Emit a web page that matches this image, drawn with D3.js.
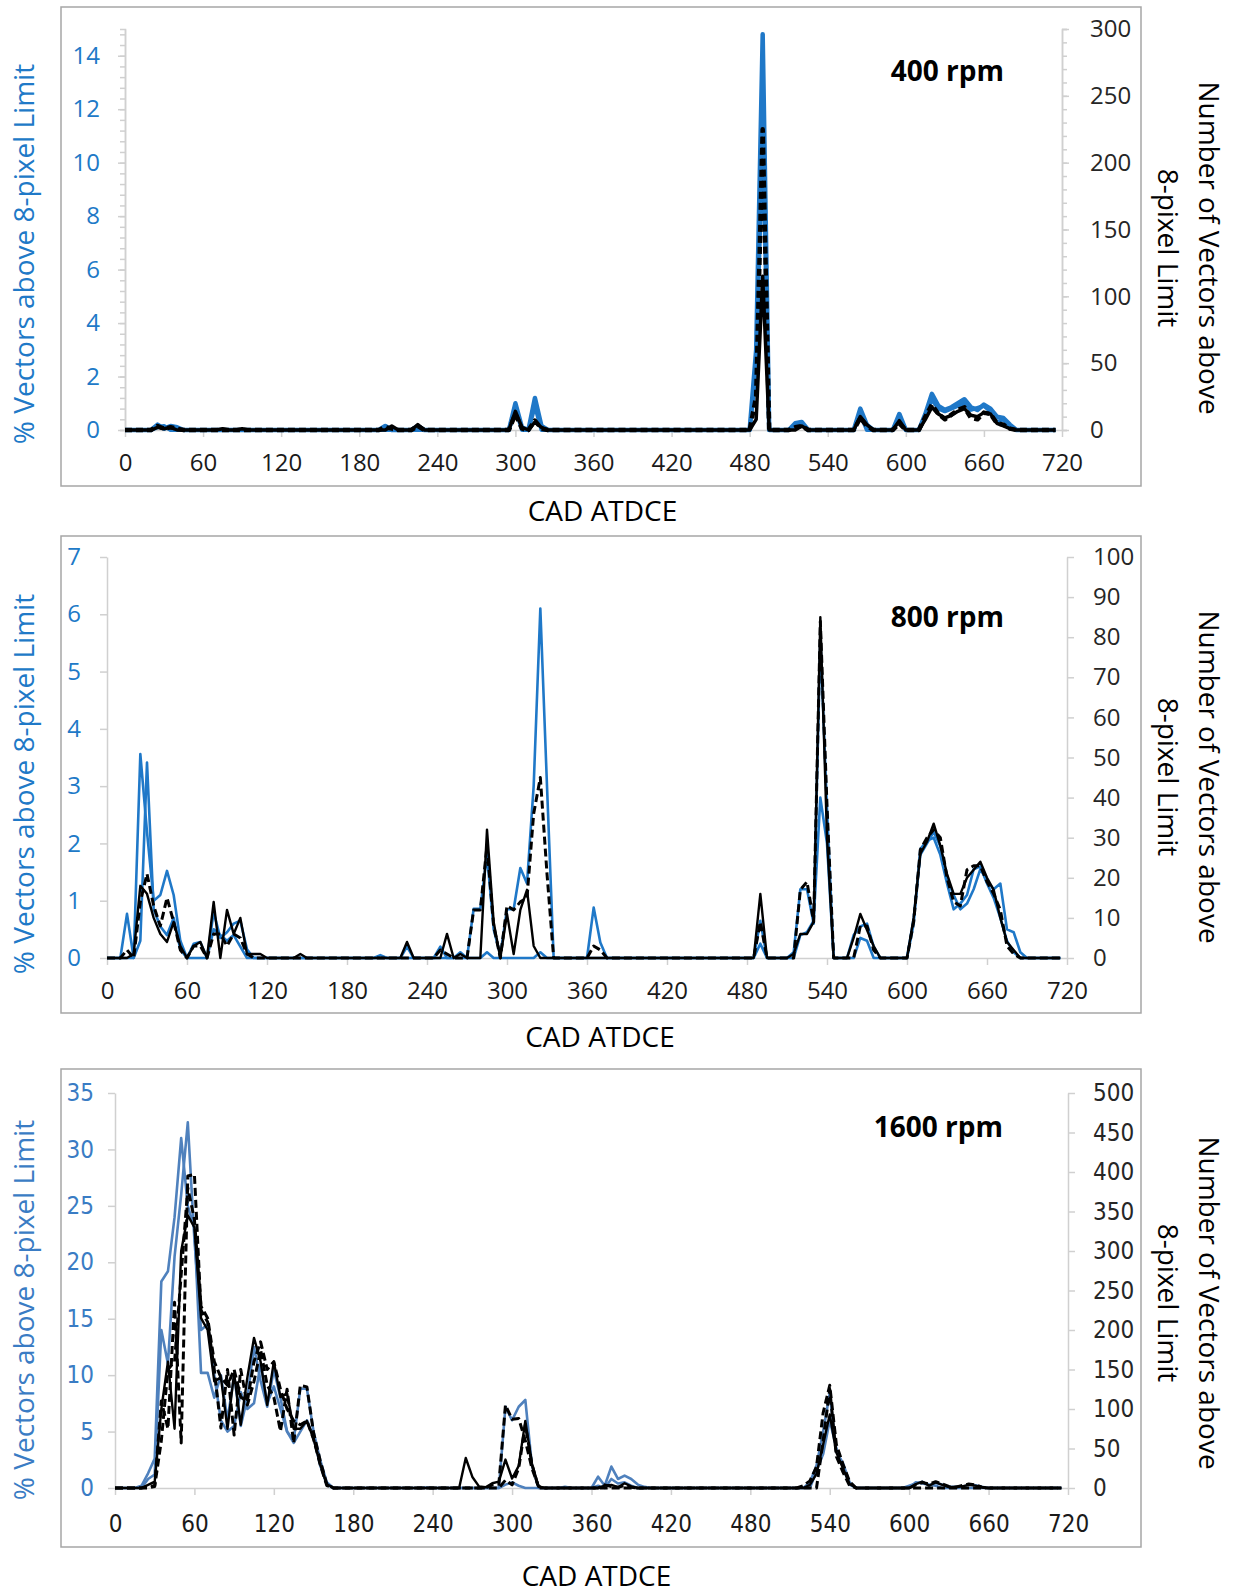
<!DOCTYPE html>
<html>
<head>
<meta charset="utf-8">
<script src="https://cdn.jsdelivr.net/npm/d3@7"></script>
<style>
  body { margin: 0; background: #fff; }
  text { font-family: "Open Sans", "Noto Sans", sans-serif; }
</style>
</head>
<body>
<svg id="chart" width="1234" height="1594"></svg>
<script>
// ---- data: [CAD ATDCE, value] ; blue = % (left axis), black = count (right axis)
var xTicks = [0, 60, 120, 180, 240, 300, 360, 420, 480, 540, 600, 660, 720];

// 400 rpm
var rpm400Blue1 = [[0,0],[20,0],[25,0.2],[30,0.05],[35,0.15],[40,0.1],[45,0],[195,0],[200,0.15],[205,0],[220,0],[225,0.15],[230,0],[295,0],[300,1.0],[305,0.1],[310,0],[315,1.2],[320,0.15],[325,0],[480,0],[485,3.0],[490,14.8],[495,0],[510,0],[515,0.25],[520,0.3],[525,0],[560,0],[565,0.8],[570,0.2],[575,0],[590,0],[595,0.6],[600,0],[610,0],[615,0.6],[620,1.35],[625,0.9],[630,0.75],[635,0.85],[640,1.0],[645,1.15],[650,0.85],[655,0.75],[660,0.95],[665,0.8],[670,0.5],[675,0.45],[680,0.2],[685,0],[715,0]];
var rpm400Blue2 = [[0,0],[20,0],[25,0.1],[30,0.15],[35,0],[295,0],[300,0.8],[305,0],[310,0],[315,0.9],[320,0],[480,0],[485,2.2],[490,11],[495,0],[510,0],[515,0.15],[520,0.2],[525,0],[560,0],[565,0.6],[570,0],[590,0],[595,0.5],[600,0],[610,0],[615,0.5],[620,1.15],[625,0.8],[630,0.7],[640,0.9],[645,1.0],[650,0.75],[660,0.9],[665,0.7],[670,0.3],[675,0.4],[680,0.1],[685,0],[715,0]];
var rpm400Black = [[0,0],[20,0],[25,2],[30,1],[35,2],[40,0],[70,0],[75,1],[80,0],[85,0],[90,1],[95,0],[200,0],[205,3],[210,0],[220,0],[225,4],[230,0],[295,0],[300,14],[305,2],[310,0],[315,6],[320,2],[325,0],[480,0],[485,8],[490,115],[495,0],[515,0],[520,3],[525,0],[560,0],[565,10],[570,4],[575,0],[590,0],[595,7],[600,0],[610,0],[615,8],[620,17],[625,12],[630,9],[635,11],[640,14],[645,16],[650,11],[655,10],[660,13],[665,12],[670,5],[675,3],[680,1],[685,0],[715,0]];
var rpm400Dash = [[0,0],[20,0],[25,3],[30,1],[35,2],[40,1],[45,0],[195,0],[200,2],[205,1],[210,0],[220,0],[225,3],[230,0],[295,0],[300,12],[305,1],[310,0],[315,7],[320,1],[325,0],[480,0],[485,25],[490,225],[495,0],[510,0],[515,2],[520,3],[525,0],[560,0],[565,9],[570,3],[575,0],[590,0],[595,5],[600,0],[610,0],[615,10],[620,19],[625,12],[630,8],[640,15],[645,17],[650,9],[655,8],[660,13],[665,12],[670,5],[675,4],[680,1],[685,0],[715,0]];

// 800 rpm
var rpm800Blue1 = [[0,0],[10,0],[15,0.77],[20,0],[25,3.56],[30,2.2],[35,1.0],[40,1.1],[45,1.52],[50,1.1],[55,0.3],[60,0],[65,0.25],[70,0.28],[75,0],[80,0.8],[85,0.35],[90,0.45],[95,0.6],[100,0.65],[105,0.15],[110,0],[200,0],[205,0.05],[210,0],[220,0],[225,0.2],[230,0],[245,0],[250,0.2],[255,0],[260,0],[265,0.1],[270,0],[275,0.86],[280,0.86],[285,1.8],[290,0.5],[295,0.05],[300,0.85],[305,0.85],[310,1.57],[315,1.3],[320,3.0],[325,6.1],[330,3.0],[335,0],[360,0],[365,0.88],[370,0.27],[375,0],[485,0],[490,0.65],[495,0],[510,0],[515,0.1],[520,1.2],[525,1.2],[530,0.6],[535,5.6],[540,2.6],[545,0],[555,0],[560,0.4],[565,0.55],[570,0.6],[575,0.2],[580,0],[600,0],[605,0.7],[610,1.8],[615,2.0],[620,2.2],[625,1.95],[630,1.4],[635,1.1],[640,0.85],[645,0.95],[650,1.2],[655,1.55],[660,1.35],[665,1.2],[670,1.3],[675,0.5],[680,0.45],[685,0.1],[690,0],[715,0]];
var rpm800Blue2 = [[0,0],[20,0],[25,0.3],[30,3.41],[35,0.85],[40,0.55],[45,0.4],[50,0.7],[55,0.15],[60,0],[75,0],[80,0.5],[85,0.4],[90,0.3],[95,0.4],[100,0.2],[105,0],[280,0],[285,0.1],[290,0],[320,0],[325,0.1],[330,0],[485,0],[490,0.25],[495,0],[515,0],[520,0.4],[525,0.45],[530,0.65],[535,2.8],[540,2.0],[545,0],[560,0],[565,0.35],[570,0.3],[575,0],[600,0],[605,0.6],[610,1.9],[615,2.05],[620,2.1],[625,1.8],[630,1.3],[635,0.85],[640,0.95],[645,1.1],[650,1.55],[655,1.6],[660,1.3],[665,1.05],[670,0.7],[675,0.3],[680,0.1],[685,0],[715,0]];
var rpm800Black = [[0,0],[15,0],[20,1],[25,18],[30,16],[35,10],[40,6],[45,4],[50,9],[55,3],[60,0],[65,3],[70,4],[75,0],[80,14],[85,0],[90,12],[95,6],[100,10],[105,1],[110,1],[115,1],[120,0],[140,0],[145,1],[150,0],[220,0],[225,4],[230,0],[250,0],[255,6],[260,0],[265,1],[270,0],[280,0],[285,32],[290,9],[295,0],[300,11],[305,1],[310,12],[315,17],[320,3],[325,0],[485,0],[490,16],[495,0],[510,0],[515,1],[520,6],[525,6],[530,9],[535,85],[540,30],[545,0],[555,0],[560,5],[565,11],[570,7],[575,3],[580,0],[600,0],[605,10],[610,26],[615,29],[620,33.5],[625,28],[630,21],[635,16],[640,16],[645,20],[650,22],[655,24],[660,20],[665,17],[670,10],[675,4],[680,2],[685,0],[715,0]];
var rpm800Dash = [[0,0],[10,0],[15,2],[20,0],[25,14],[30,21],[35,13],[40,8],[45,15],[50,9],[55,2],[60,0],[65,3],[70,3],[75,0],[80,6],[85,6],[90,3],[95,6],[100,5],[105,1],[110,0],[245,0],[250,2],[255,1],[260,0],[270,0],[275,12],[280,12],[285,28],[290,8],[295,0],[300,13],[305,12],[310,14],[315,15],[320,36],[325,45],[330,21],[335,0],[360,0],[365,3],[370,2],[375,0],[485,0],[490,9],[495,0],[515,0],[520,17],[525,19],[530,9],[535,84],[540,38],[545,0],[560,0],[565,8],[570,8],[575,2],[580,0],[600,0],[605,9],[610,27],[615,30],[620,32],[625,30],[630,20],[635,14],[640,13],[645,22],[650,23],[655,23],[660,19],[665,16],[670,12],[675,3],[680,1],[685,0],[715,0]];

// 1600 rpm
var rpm1600Blue1 = [[0,0],[15,0],[20,0.2],[25,1.3],[30,2.6],[35,18.3],[40,19.2],[45,24],[50,31],[55,25],[60,23],[65,10.2],[70,10.2],[75,8],[80,10],[85,6],[90,10],[95,5.5],[100,8],[105,12.5],[110,9.5],[115,7.2],[120,10.5],[125,8],[130,5],[135,4],[140,5],[145,6],[150,4.5],[155,2],[160,0.3],[165,0],[230,0],[235,0.05],[240,0],[290,0],[295,7.2],[300,6],[305,7.2],[310,7.8],[315,2],[320,0],[335,0],[340,0.1],[345,0],[360,0],[365,1.0],[370,0.2],[375,1.9],[380,0.8],[385,1.1],[390,0.8],[395,0.3],[400,0.1],[405,0],[520,0],[525,0.5],[530,2],[535,5],[540,8.4],[545,3.2],[550,2.2],[555,0.5],[560,0],[595,0],[600,0.2],[605,0.4],[610,0.55],[615,0.2],[620,0.45],[625,0.3],[630,0.1],[640,0.1],[645,0.3],[650,0.25],[655,0.1],[660,0],[715,0]];
var rpm1600Blue2 = [[0,0],[20,0],[25,0.8],[30,1.2],[35,14],[40,11],[45,20.5],[50,26],[55,32.4],[60,22],[65,14],[70,14.5],[75,10],[80,6],[85,5],[90,5.5],[95,8.5],[100,7],[105,7.5],[110,11],[115,7.5],[120,9],[125,7],[130,5],[135,4.2],[140,8.8],[145,8.8],[150,5],[155,2.5],[160,0.5],[165,0],[290,0],[295,0.3],[300,0.5],[305,0.2],[310,0],[360,0],[365,0.2],[370,0],[375,0.8],[380,0.4],[385,0.5],[390,0.2],[395,0],[525,0],[530,1.5],[535,3],[540,6],[545,3.5],[550,1.8],[555,0.3],[560,0],[600,0],[605,0.5],[610,0.4],[615,0.3],[620,0.2],[625,0],[715,0]];
var rpm1600Black = [[0,0],[20,0],[25,4],[30,8],[35,100],[40,160],[45,75],[50,300],[55,345],[60,330],[65,215],[70,200],[75,135],[80,140],[85,75],[90,145],[95,80],[100,140],[105,190],[110,160],[115,105],[120,160],[125,115],[130,120],[135,75],[140,75],[145,85],[150,62],[155,30],[160,5],[165,0],[260,0],[265,38],[270,14],[275,2],[280,1],[285,6],[290,8],[295,36],[300,12],[305,28],[310,85],[315,31],[320,2],[325,0],[365,0],[370,3],[375,4],[380,1],[385,6],[390,2],[395,0],[520,0],[525,4],[530,18],[535,55],[540,93],[545,45],[550,25],[555,5],[560,0],[600,0],[605,5],[610,8],[615,3],[620,7],[625,4],[630,1],[640,2],[645,4],[650,3],[655,1],[660,0],[715,0]];
var rpm1600Dash = [[0,0],[20,0],[25,2],[30,3],[35,110],[40,75],[45,235],[50,57],[55,395],[60,397],[65,225],[70,210],[75,150],[80,76],[85,150],[90,67],[95,150],[100,105],[105,135],[110,175],[115,130],[120,115],[125,72],[130,125],[135,57],[140,130],[145,128],[150,70],[155,35],[160,5],[165,0],[280,0],[285,4],[290,5],[295,105],[300,87],[305,88],[310,60],[315,25],[320,2],[325,0],[365,0],[370,4],[375,2],[380,1],[385,3],[390,1],[395,0],[515,0],[520,3],[525,9],[530,27],[535,95],[540,130],[545,55],[550,30],[555,8],[560,0],[600,0],[605,4],[610,7],[615,5],[620,8],[625,5],[630,2],[635,1],[645,5],[650,4],[655,1],[660,0],[715,0]];
var rpm1600Dash2 = [[0,0],[25,0],[30,2],[35,60],[40,150],[45,160],[50,270],[55,380],[60,340],[65,230],[70,215],[75,160],[80,140],[85,130],[90,150],[95,115],[100,110],[105,160],[110,185],[115,150],[120,160],[125,125],[130,100],[135,85],[140,80],[145,85],[150,62],[155,30],[160,3],[165,0],[290,0],[295,10],[300,4],[305,25],[310,80],[315,30],[320,0],[530,0],[535,60],[540,125],[545,40],[550,20],[555,3],[560,0],[715,0]];

var svg = d3.select('#chart');
svg.append('rect').attr('width', 1234).attr('height', 1594).attr('fill', '#fff');

var fmt = d3.format('~g');

function styleAxis(sel, labelColor, fontSize, fontFamily) {
  sel.select('.domain').attr('stroke', '#d0d0d0').attr('stroke-width', 1.5);
  sel.selectAll('.tick line').attr('stroke', '#d0d0d0').attr('stroke-width', 1.5);
  sel.selectAll('.tick text').attr('fill', labelColor).style('font-size', fontSize + 'px')
    .style('font-family', fontFamily);
}

function drawPanel(p) {
  var g = svg.append('g');
  g.append('rect')
    .attr('x', p.box[0]).attr('y', p.box[1])
    .attr('width', p.box[2] - p.box[0]).attr('height', p.box[3] - p.box[1])
    .attr('fill', 'none').attr('stroke', '#a6a6a6').attr('stroke-width', 1.5);

  var x = d3.scaleLinear().domain([0, 720]).range([p.x0, p.x1]);
  var yL = d3.scaleLinear().domain([0, p.leftMax]).range([p.y0, p.y1]);
  var yR = d3.scaleLinear().domain([0, p.rightMax]).range([p.y0, p.y1]);

  // minor ticks (400 rpm only)
  if (p.leftMinor) {
    g.append('g').attr('transform', 'translate(' + p.x0 + ',0)')
      .call(d3.axisLeft(yL).tickValues(d3.range(0, p.leftMax + 0.001, p.leftMinor)).tickSize(5).tickFormat(''))
      .call(styleAxis, p.leftColor, p.fs, p.tickFont);
    g.append('g').attr('transform', 'translate(' + p.x1 + ',0)')
      .call(d3.axisRight(yR).tickValues(d3.range(0, p.rightMax + 0.001, p.rightMinor)).tickSize(5).tickFormat(''))
      .call(styleAxis, '#333', p.fs, p.tickFont);
  }

  g.append('g').attr('transform', 'translate(0,' + p.y0 + ')')
    .call(d3.axisBottom(x).tickValues(xTicks).tickSize(7).tickSizeOuter(0).tickPadding(p.padX).tickFormat(fmt))
    .call(styleAxis, '#1a1a1a', p.fs, p.tickFont);

  g.append('g').attr('transform', 'translate(' + p.x0 + ',0)')
    .call(d3.axisLeft(yL).tickValues(d3.range(0, p.leftTop + 0.001, p.leftStep)).tickSize(7).tickSizeOuter(0).tickPadding(p.padL).tickFormat(fmt))
    .call(styleAxis, p.leftColor, p.fs, p.tickFont);

  g.append('g').attr('transform', 'translate(' + p.x1 + ',0)')
    .call(d3.axisRight(yR).tickValues(d3.range(0, p.rightMax + 0.001, p.rightStep)).tickSize(7).tickSizeOuter(0).tickPadding(p.padR).tickFormat(fmt))
    .call(styleAxis, '#262626', p.fs, p.tickFont);

  p.series.forEach(function (s) {
    var y = s.axis === 'L' ? yL : yR;
    var line = d3.line().x(function (d) { return x(d[0]); }).y(function (d) { return y(d[1]); });
    g.append('path').datum(s.data)
      .attr('d', line)
      .attr('fill', 'none')
      .attr('stroke', s.color)
      .attr('stroke-width', s.width)
      .attr('stroke-linejoin', 'round')
      .attr('stroke-dasharray', s.dash || null);
  });

  g.append('text').attr('x', p.labelX).attr('y', p.labelY)
    .attr('text-anchor', 'end').attr('font-weight', 'bold')
    .style('font-size', '28px').attr('fill', '#000').text(p.label);

  g.append('text').attr('x', (p.x0 + p.x1) / 2 + p.cadDx).attr('y', p.cadY)
    .attr('text-anchor', 'middle').style('font-size', '28px').attr('fill', '#000')
    .text('CAD ATDCE');

  g.append('text')
    .attr('transform', 'translate(23,' + p.leftTitleY + ') rotate(-90)')
    .attr('text-anchor', 'middle').attr('dominant-baseline', 'central')
    .style('font-size', '28px').attr('fill', p.leftColor)
    .text('% Vectors above 8-pixel Limit');

  g.append('text')
    .attr('transform', 'translate(1210,' + p.rightTitleY + ') rotate(90)')
    .attr('text-anchor', 'middle').attr('dominant-baseline', 'central')
    .style('font-size', '28px').attr('fill', '#000')
    .text('Number of Vectors above');
  g.append('text')
    .attr('transform', 'translate(1169,' + p.rightTitleY + ') rotate(90)')
    .attr('text-anchor', 'middle').attr('dominant-baseline', 'central')
    .style('font-size', '28px').attr('fill', '#000')
    .text('8-pixel Limit');
}

var blueA = '#1f78c8', blueB = '#4f81bd';

drawPanel({
  box: [61, 7, 1141, 486], x0: 125, x1: 1062, y0: 430, y1: 29,
  leftMax: 15, leftTop: 14, leftStep: 2, leftMinor: 0.4, rightMax: 300, rightStep: 50, rightMinor: 10,
  leftColor: '#2079c7', fs: 24, tickFont: '"Open Sans", sans-serif', padL: 18, padR: 21, padX: 17,
  label: '400 rpm', labelX: 1004, labelY: 81, cadY: 521, cadDx: 9,
  leftTitleY: 254, rightTitleY: 248,
  series: [
    { data: rpm400Blue2, axis: 'L', color: blueA, width: 4 },
    { data: rpm400Blue1, axis: 'L', color: blueA, width: 4.5 },
    { data: rpm400Black, axis: 'R', color: '#000', width: 3.5 },
    { data: rpm400Dash, axis: 'R', color: '#000', width: 4.5, dash: '7,4' }
  ]
});

drawPanel({
  box: [61, 536, 1141, 1013], x0: 107, x1: 1067, y0: 958, y1: 557,
  leftMax: 7, leftTop: 7, leftStep: 1, rightMax: 100, rightStep: 10,
  leftColor: '#2079c7', fs: 24, tickFont: '"Open Sans", sans-serif', padL: 19, padR: 19, padX: 17,
  label: '800 rpm', labelX: 1004, labelY: 627, cadY: 1047, cadDx: 13,
  leftTitleY: 784, rightTitleY: 777,
  series: [
    { data: rpm800Blue2, axis: 'L', color: blueA, width: 2.6 },
    { data: rpm800Blue1, axis: 'L', color: blueA, width: 2.6 },
    { data: rpm800Black, axis: 'R', color: '#000', width: 2.4 },
    { data: rpm800Dash, axis: 'R', color: '#000', width: 3, dash: '8,4' }
  ]
});

drawPanel({
  box: [61, 1069, 1141, 1547], x0: 115, x1: 1068, y0: 1488, y1: 1093,
  leftMax: 35, leftTop: 35, leftStep: 5, rightMax: 500, rightStep: 50,
  leftColor: '#3a7cc4', fs: 24, tickFont: '"Liberation Sans Narrow", "DejaVu Sans Condensed", "Open Sans", sans-serif', padL: 14, padR: 18, padX: 20,
  label: '1600 rpm', labelX: 1003, labelY: 1137, cadY: 1586, cadDx: 5,
  leftTitleY: 1310, rightTitleY: 1303,
  series: [
    { data: rpm1600Blue2, axis: 'L', color: blueB, width: 2.6 },
    { data: rpm1600Blue1, axis: 'L', color: blueB, width: 2.6 },
    { data: rpm1600Black, axis: 'R', color: '#000', width: 2.4 },
    { data: rpm1600Dash2, axis: 'R', color: '#000', width: 3, dash: '8,4' },
    { data: rpm1600Dash, axis: 'R', color: '#000', width: 3, dash: '8,4' }
  ]
});
</script>
</body>
</html>
